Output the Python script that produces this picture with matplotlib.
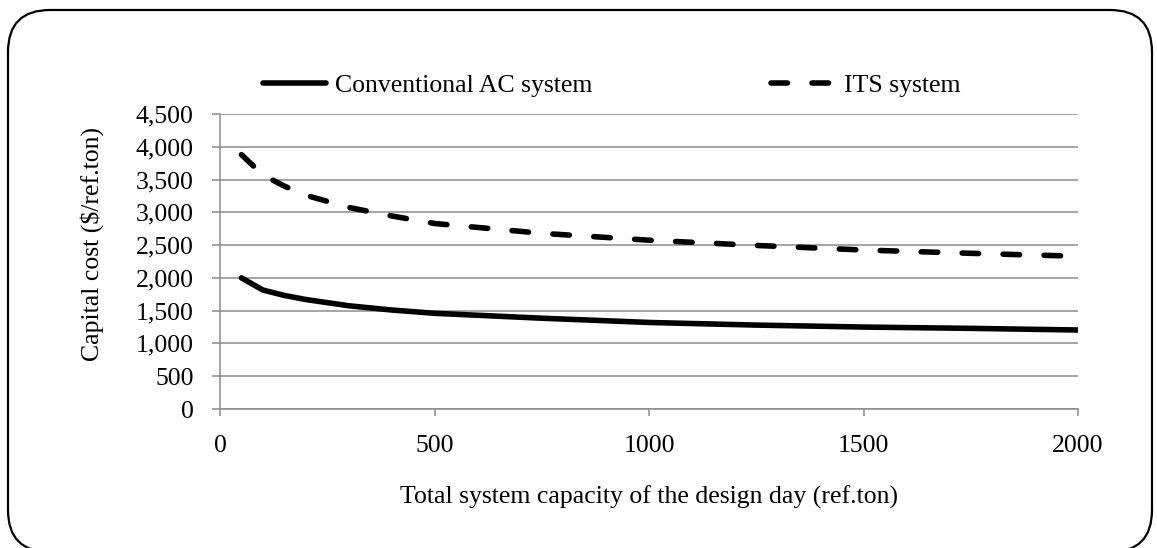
import matplotlib
matplotlib.use("Agg")
import matplotlib.pyplot as plt
from matplotlib.patches import FancyBboxPatch

# capacity (ref.ton) and capital cost ($/ref.ton)
capacity = [50, 100, 150, 200, 300, 400, 500, 750, 1000, 1250, 1500, 1750, 2000]
conventional = [2000, 1815, 1732, 1670, 1575, 1510, 1460, 1385, 1320, 1280, 1250, 1230, 1205]
its = [3880, 3570, 3400, 3260, 3075, 2945, 2830, 2680, 2575, 2495, 2425, 2375, 2330]

xticks = [0, 500, 1000, 1500, 2000]
yticks = [0, 500, 1000, 1500, 2000, 2500, 3000, 3500, 4000, 4500]

plt.rcParams["font.family"] = ["Liberation Serif", "DejaVu Serif"]
plt.rcParams["font.size"] = 18.5
plt.rcParams["lines.scale_dashes"] = False

grey = "#8c8c8c"

fig = plt.figure(figsize=(11.57, 5.48), dpi=100)
ax = fig.add_axes([220 / 1157, 1 - 409 / 548, 858 / 1157, 295 / 548])

# rounded frame around the whole chart
frame = FancyBboxPatch((0.08, -0.04), 11.44, 5.42,
                       boxstyle="round,pad=0,rounding_size=0.42",
                       transform=fig.dpi_scale_trans, fill=False,
                       edgecolor="black", linewidth=1.6, zorder=0)
fig.patches.append(frame)

ax.plot(capacity, conventional, color="black", linewidth=4,
        solid_capstyle="round", solid_joinstyle="round",
        label="Conventional AC system", zorder=3)
ax.plot(capacity, its, color="black", linewidth=4,
        linestyle=(0, (11.9, 17.6)), dash_capstyle="round",
        dash_joinstyle="round", label="ITS system", zorder=3)

ax.set_xlim(0, 2000)
ax.set_ylim(0, 4500)
ax.set_xticks(xticks)
ax.set_yticks(yticks)
ax.set_yticklabels([f"{v:,}" for v in yticks])

ax.grid(axis="y", color=grey, linewidth=1.1)
ax.set_axisbelow(True)
for side in ["top", "right"]:
    ax.spines[side].set_visible(False)
for side in ["left", "bottom"]:
    ax.spines[side].set_color(grey)
    ax.spines[side].set_linewidth(1.1)
ax.tick_params(axis="y", length=6, width=1.1, color=grey, pad=13)
ax.tick_params(axis="x", length=5, width=1.1, color=grey, pad=14)

ax.set_xlabel("Total system capacity of the design day (ref.ton)", va="center")
ax.xaxis.set_label_coords(0.5, -0.298)
ax.set_ylabel("Capital cost ($/ref.ton)", va="center", ha="center")
ax.yaxis.set_label_coords(-0.149, 0.559)

ax.legend(loc="center left", bbox_to_anchor=(263 / 1157, 1 - 86 / 548),
          bbox_transform=fig.transFigure, ncol=2, frameon=False,
          borderpad=0, borderaxespad=0, handlelength=2.47,
          handletextpad=0.35, columnspacing=6.95)

fig.savefig("out.png", dpi=100)
